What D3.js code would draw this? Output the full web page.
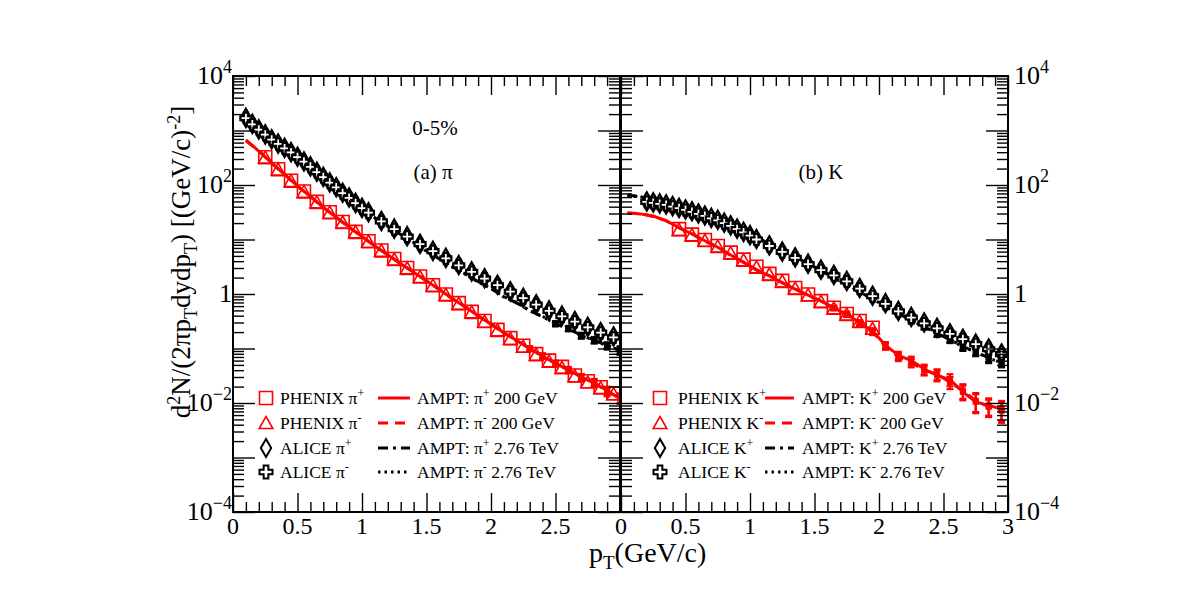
<!DOCTYPE html>
<html><head><meta charset="utf-8">
<script src="https://cdn.jsdelivr.net/npm/d3@7"></script>
<style>body{margin:0;background:#fff} svg{display:block} text{font-family:"Liberation Serif","Times New Roman",serif;fill:#000}</style>
</head><body><svg id="c" width="1182" height="592"></svg>
<script>
// ---------- data: panel (a) pions ----------
const ptAmptPi = [0.1,0.2,0.3,0.4,0.5,0.6,0.7,0.8,0.9,1.0,1.1,1.2,1.3,1.4,1.5,1.6,1.7,1.8,1.9,2.0,2.1,2.2,2.3,2.4,2.5,2.6,2.7,2.8,2.9,3.0];
const ampt200PiPlus  = [670,420,255,155,96,61,39,25.5,17,11.3,7.6,5.2,3.6,2.5,1.75,1.2,0.83,0.58,0.40,0.28,0.195,0.14,0.10,0.072,0.054,0.040,0.030,0.023,0.017,0.012];
const ampt200PiMinus = [650,428,250,158,94,62,38.5,25.8,16.6,11.5,7.5,5.3,3.55,2.55,1.72,1.22,0.82,0.59,0.39,0.285,0.19,0.142,0.098,0.074,0.052,0.041,0.029,0.024,0.016,0.0125];
const ampt200PiErr   = [0.01,0.01,0.01,0.01,0.01,0.01,0.01,0.02,0.02,0.02,0.02,0.03,0.03,0.03,0.04,0.04,0.05,0.05,0.06,0.06,0.07,0.08,0.09,0.1,0.11,0.12,0.13,0.15,0.17,0.2];
const ampt276PiPlus  = [1600,1000,660,455,315,210,134,86,56,36,25,17.5,12.3,8.8,6.2,4.4,3.2,2.3,1.7,1.25,0.9,0.68,0.5,0.38,0.29,0.23,0.175,0.14,0.115,0.09];
const ampt276PiMinus = [1580,1010,650,460,310,212,132,87,55,36.5,24.6,17.8,12.1,8.9,6.1,4.5,3.1,2.35,1.65,1.28,0.88,0.7,0.49,0.39,0.28,0.235,0.17,0.145,0.11,0.095];
const ampt276PiErr   = [0.01,0.01,0.01,0.01,0.01,0.01,0.01,0.01,0.01,0.02,0.02,0.02,0.02,0.03,0.03,0.03,0.04,0.04,0.05,0.05,0.06,0.06,0.07,0.08,0.09,0.1,0.11,0.12,0.13,0.15];
const ptPhenixPi = [0.25,0.35,0.45,0.55,0.65,0.75,0.85,0.95,1.05,1.15,1.25,1.35,1.45,1.55,1.65,1.75,1.85,1.95,2.05,2.15,2.25,2.35,2.45,2.55,2.65,2.75,2.85,2.95];
const phenixPiPlus  = [324,195,120,76,49,31.6,20.9,13.8,9.3,6.3,4.4,3.0,2.1,1.45,0.98,0.68,0.47,0.32,0.22,0.155,0.112,0.079,0.060,0.046,0.032,0.025,0.0195,0.0151];
const phenixPiMinus = [318,192,118,75,48,31,20.5,13.6,9.1,6.2,4.3,2.95,2.05,1.42,0.96,0.66,0.46,0.31,0.215,0.15,0.108,0.077,0.058,0.044,0.031,0.024,0.0188,0.0145];
const ptAlicePi = [0.1,0.15,0.2,0.25,0.3,0.35,0.4,0.45,0.5,0.55,0.6,0.65,0.7,0.75,0.8,0.85,0.9,0.95,1.0,1.05,1.15,1.25,1.35,1.45,1.55,1.65,1.75,1.85,1.95,2.05,2.15,2.25,2.35,2.45,2.55,2.65,2.75,2.85,2.95];
const alicePiPlus  = [1700,1320,1050,850,690,575,480,400,330,270,220,175,141,112,91,72,59,47,38,31.6,21.9,15.8,11.5,8.3,6.2,4.6,3.4,2.6,1.95,1.48,1.12,0.85,0.65,0.50,0.40,0.32,0.25,0.20,0.166];
const alicePiMinus = [1680,1300,1040,840,680,570,470,395,325,268,216,173,139,111,90,71,58,46.5,37.5,31,21.5,15.5,11.3,8.2,6.1,4.5,3.35,2.55,1.92,1.45,1.1,0.84,0.64,0.49,0.39,0.31,0.245,0.195,0.16];

// ---------- data: panel (b) kaons ----------
const ptAmptK = [0.05,0.15,0.25,0.35,0.45,0.55,0.65,0.75,0.85,0.95,1.05,1.15,1.25,1.35,1.45,1.55,1.65,1.75,1.85,1.95,2.05,2.15,2.25,2.35,2.45,2.55,2.65,2.75,2.85,2.95];
const ampt200KPlus  = [30.9,29.5,26.9,21.9,16.6,12.6,9.5,7.2,5.2,3.8,2.8,2.14,1.62,1.23,0.95,0.74,0.56,0.42,0.30,0.21,0.115,0.075,0.060,0.042,0.032,0.027,0.016,0.0105,0.0090,0.0078];
const ampt200KMinus = [30.2,29.8,26.4,22.3,16.3,12.8,9.3,7.3,5.1,3.85,2.75,2.18,1.6,1.25,0.93,0.75,0.55,0.43,0.29,0.20,0.11,0.070,0.055,0.040,0.034,0.024,0.017,0.011,0.0085,0.0072];
const ampt200KErr   = [0.02,0.02,0.02,0.02,0.02,0.03,0.03,0.03,0.04,0.04,0.05,0.05,0.06,0.06,0.07,0.08,0.09,0.1,0.11,0.12,0.14,0.16,0.18,0.2,0.22,0.25,0.3,0.38,0.35,0.4];
const ampt276KPlus  = [66,60,53,46,40,34,28,23,18.5,14.5,11,8.3,6.3,4.8,3.6,2.7,2.0,1.5,1.1,0.8,0.6,0.44,0.33,0.25,0.19,0.145,0.11,0.085,0.068,0.055];
const ampt276KMinus = [64,61,52,46.5,39,34.5,27.5,23.3,18.2,14.7,10.8,8.4,6.2,4.85,3.55,2.75,1.95,1.52,1.08,0.82,0.58,0.45,0.32,0.255,0.185,0.15,0.105,0.088,0.065,0.057];
const ampt276KErr   = [0.01,0.01,0.01,0.01,0.01,0.01,0.02,0.02,0.02,0.02,0.03,0.03,0.03,0.04,0.04,0.05,0.05,0.06,0.06,0.07,0.08,0.09,0.1,0.11,0.12,0.13,0.14,0.15,0.17,0.18];
const ptPhenixK = [0.45,0.55,0.65,0.75,0.85,0.95,1.05,1.15,1.25,1.35,1.45,1.55,1.65,1.75,1.85,1.95];
const phenixKPlus  = [15.5,12.3,9.8,7.6,5.75,4.27,3.16,2.34,1.74,1.29,0.98,0.74,0.56,0.43,0.32,0.24];
const phenixKMinus = [15.0,12.0,9.5,7.4,5.6,4.15,3.08,2.28,1.70,1.26,0.95,0.72,0.545,0.42,0.31,0.23];
const ptAliceK = [0.2,0.25,0.3,0.35,0.4,0.45,0.5,0.55,0.6,0.65,0.7,0.75,0.8,0.85,0.9,0.95,1.0,1.05,1.15,1.25,1.35,1.45,1.55,1.65,1.75,1.85,1.95,2.05,2.15,2.25,2.35,2.45,2.55,2.65,2.75,2.85,2.95];
const aliceKPlus  = [50,48,46,44,41,38,35.5,33,30,27.5,25,23,20.4,18.2,15.8,13.8,12.0,10.2,7.8,6.0,4.7,3.6,2.8,2.24,1.74,1.29,0.93,0.68,0.49,0.38,0.30,0.24,0.19,0.151,0.123,0.100,0.081];
const aliceKMinus = [49,47,45,43,40,37.5,35,32,29.5,27,24.5,22.5,20,17.8,15.5,13.5,11.8,10,7.6,5.9,4.6,3.55,2.75,2.2,1.7,1.26,0.91,0.66,0.48,0.37,0.29,0.235,0.185,0.148,0.12,0.097,0.079];

// ---------- axis tick labels ----------
const xTickLabelsA = [0,0.5,1,1.5,2,2.5];
const xTickLabelsB = [0,0.5,1,1.5,2,2.5,3];
const yTickExpLeft = [4,2,0,-2,-4];
const yTickExpRight = [4,2,0,-2,-4];

// ---------- legends ----------
const legendA = [["PHENIX π","+"],["PHENIX π","-"],["ALICE π","+"],["ALICE π","-"]];
const legendA2 = [["AMPT: π","+"," 200 GeV"],["AMPT: π","-"," 200 GeV"],["AMPT: π","+"," 2.76 TeV"],["AMPT: π","-"," 2.76 TeV"]];
const legendB = [["PHENIX K","+"],["PHENIX K","-"],["ALICE K","+"],["ALICE K","-"]];
const legendB2 = [["AMPT: K","+"," 200 GeV"],["AMPT: K","-"," 200 GeV"],["AMPT: K","+"," 2.76 TeV"],["AMPT: K","-"," 2.76 TeV"]];

// ---------- drawing ----------
const svg = d3.select("#c");
svg.append("rect").attr("width",1182).attr("height",592).attr("fill","#fff");
const y = d3.scaleLog().domain([1e-4,1e4]).range([512,76]);
const xA = d3.scaleLinear().domain([0,3]).range([233,620]);
const xB = d3.scaleLinear().domain([0,3]).range([621,1008]);
const RED = "#ff0000";

const yMajor = d3.range(-4,5).map(k=>Math.pow(10,k));
const yMinor = [];
for (let k=-4;k<4;k++) for (let m=2;m<=9;m++) yMinor.push(m*Math.pow(10,k));
const xMajor = d3.range(0,7).map(i=>i*0.5);
const xMinor = d3.range(0,31).map(i=>i/10).filter(v=>Math.abs(v*2-Math.round(v*2))>1e-6);

function axes(xs) {
  const [x0,x1] = xs.range();
  const g = svg.append("g");
  const mk = (gen, tr) => {
    const a = g.append("g").attr("transform",tr).call(gen);
    a.select(".domain").remove();
    a.selectAll("line").attr("stroke","#000").attr("stroke-width",1.4);
  };
  mk(d3.axisTop(xs).tickValues(xMajor).tickSize(19).tickFormat(""), "translate(0,512)");
  mk(d3.axisTop(xs).tickValues(xMinor).tickSize(10).tickFormat(""), "translate(0,512)");
  mk(d3.axisBottom(xs).tickValues(xMajor).tickSize(19).tickFormat(""), "translate(0,76)");
  mk(d3.axisBottom(xs).tickValues(xMinor).tickSize(10).tickFormat(""), "translate(0,76)");
  mk(d3.axisRight(y).tickValues(yMajor).tickSize(22).tickFormat(""), `translate(${x0},0)`);
  mk(d3.axisRight(y).tickValues(yMinor).tickSize(11).tickFormat(""), `translate(${x0},0)`);
  mk(d3.axisLeft(y).tickValues(yMajor).tickSize(22).tickFormat(""), `translate(${x1},0)`);
  mk(d3.axisLeft(y).tickValues(yMinor).tickSize(11).tickFormat(""), `translate(${x1},0)`);
  g.append("rect").attr("x",x0).attr("y",76).attr("width",x1-x0).attr("height",436)
    .attr("fill","none").attr("stroke","#000").attr("stroke-width",2);
}

function clip(id, xs) {
  const [x0,x1] = xs.range();
  svg.append("clipPath").attr("id",id).append("rect").attr("x",x0).attr("y",76).attr("width",x1-x0).attr("height",436);
}
clip("ca",xA); clip("cb",xB);

function markerPath(type, s) {
  const h = s/2;
  if (type==="square") return `M${-h},${-h}H${h}V${h}H${-h}Z`;
  if (type==="triangle") return `M0,${-h*1.0}L${h*1.05},${h*0.85}L${-h*1.05},${h*0.85}Z`;
  if (type==="diamond") return `M0,${-h*1.4}L${h*0.8},0L0,${h*1.4}L${-h*0.8},0Z`;
  if (type==="cross") { const a=h*0.36; return `M${-a},${-h}H${a}V${-a}H${h}V${a}H${a}V${h}H${-a}V${a}H${-h}V${-a}H${-a}Z`; }
}

function markers(g, xs, pts, vals, type, color, fill, size) {
  g.append("g").selectAll("path").data(vals).join("path")
    .attr("d", markerPath(type, size))
    .attr("transform",(d,i)=>`translate(${xs(pts[i])},${y(d)})`)
    .attr("fill",fill).attr("stroke",color).attr("stroke-width",type==="cross"||type==="diamond"?2.2:1.6);
}

function curve(g, xs, pts, vals, errs, color, dash) {
  const line = d3.line().x((d,i)=>xs(pts[i])).y(d=>y(d));
  g.append("path").datum(vals).attr("d",line).attr("fill","none").attr("stroke",color)
    .attr("stroke-width",3).attr("stroke-dasharray",dash);
  const eb = g.append("g").attr("stroke",color).attr("stroke-width",2.2);
  vals.forEach((v,i)=>{
    const X = xs(pts[i]), y1 = y(v*(1+errs[i])), y2 = y(v*(1-errs[i]));
    if (y2-y1 < 4) return;
    eb.append("line").attr("x1",X).attr("x2",X).attr("y1",y1).attr("y2",y2);
    eb.append("line").attr("x1",X-3.5).attr("x2",X+3.5).attr("y1",y1).attr("y2",y1);
    eb.append("line").attr("x1",X-3.5).attr("x2",X+3.5).attr("y1",y2).attr("y2",y2);
    eb.append("rect").attr("x",X-3).attr("y",y(v)-3).attr("width",6).attr("height",6).attr("fill",color).attr("stroke","none");
  });
}

const DASH = "10,7", DASHDOT = "10,5,3,5", DOT = "2.5,4";

// panel a
const ga = svg.append("g").attr("clip-path","url(#ca)");
curve(ga, xA, ptAmptPi, ampt200PiPlus, ampt200PiErr, RED, null);
curve(ga, xA, ptAmptPi, ampt200PiMinus, ampt200PiErr, RED, DASH);
markers(ga, xA, ptPhenixPi, phenixPiPlus, "square", RED, "none", 13);
markers(ga, xA, ptPhenixPi, phenixPiMinus, "triangle", RED, "none", 13);
curve(ga, xA, ptAmptPi, ampt276PiPlus, ampt276PiErr, "#000", DASHDOT);
curve(ga, xA, ptAmptPi, ampt276PiMinus, ampt276PiErr, "#000", DOT);
markers(ga, xA, ptAlicePi, alicePiPlus, "diamond", "#000", "none", 13);
markers(ga, xA, ptAlicePi, alicePiMinus, "cross", "#000", "#fff", 11);

// panel b
const gb = svg.append("g").attr("clip-path","url(#cb)");
curve(gb, xB, ptAmptK, ampt200KPlus, ampt200KErr, RED, null);
curve(gb, xB, ptAmptK, ampt200KMinus, ampt200KErr, RED, DASH);
markers(gb, xB, ptPhenixK, phenixKPlus, "square", RED, "none", 13);
markers(gb, xB, ptPhenixK, phenixKMinus, "triangle", RED, "none", 13);
curve(gb, xB, ptAmptK, ampt276KPlus, ampt276KErr, "#000", DASHDOT);
curve(gb, xB, ptAmptK, ampt276KMinus, ampt276KErr, "#000", DOT);
markers(gb, xB, ptAliceK, aliceKPlus, "diamond", "#000", "none", 13);
markers(gb, xB, ptAliceK, aliceKMinus, "cross", "#000", "#fff", 11);

axes(xA); axes(xB);

// x tick labels
function xLabels(xs, labels) {
  svg.append("g").selectAll("text").data(labels).join("text")
    .attr("x",d=>xs(d)).attr("y",534).attr("text-anchor","middle").attr("font-size",24).text(d=>String(d));
}
xLabels(xA, xTickLabelsA); xLabels(xB, xTickLabelsB);

// y tick labels
function yLabels(exps, xpos, anchor) {
  exps.forEach(e=>{
    const t = svg.append("text").attr("x",xpos).attr("y",y(Math.pow(10,e))+8)
      .attr("text-anchor",anchor).attr("font-size",26);
    if (e===0) { t.text("1"); return; }
    t.append("tspan").text("10");
    t.append("tspan").attr("font-size",18).attr("dy",-11).text(e<0?"−"+(-e):String(e));
  });
}
yLabels(yTickExpLeft, 232, "end");
yLabels(yTickExpRight, 1014, "start");

// axis titles
const xt = svg.append("text").attr("x",589).attr("y",562).attr("font-size",28);
xt.append("tspan").text("p");
xt.append("tspan").attr("font-size",19).attr("dy",7).text("T");
xt.append("tspan").attr("dy",-7).text("(GeV/c)");

const yt = svg.append("text").attr("transform","translate(190,262) rotate(-90)").attr("text-anchor","middle").attr("font-size",27);
yt.append("tspan").text("d");
yt.append("tspan").attr("font-size",18).attr("dy",-10).text("2");
yt.append("tspan").attr("dy",10).text("N/(2πp");
yt.append("tspan").attr("font-size",18).attr("dy",7).text("T");
yt.append("tspan").attr("dy",-7).text("dydp");
yt.append("tspan").attr("font-size",18).attr("dy",7).text("T");
yt.append("tspan").attr("dy",-7).text(") [(GeV/c)");
yt.append("tspan").attr("font-size",18).attr("dy",-10).text("-2");
yt.append("tspan").attr("dy",10).text("]");

// panel labels
svg.append("text").attr("x",435).attr("y",135).attr("text-anchor","middle").attr("font-size",21).text("0-5%");
svg.append("text").attr("x",433).attr("y",179).attr("text-anchor","middle").attr("font-size",21).text("(a) π");
svg.append("text").attr("x",821).attr("y",179).attr("text-anchor","middle").attr("font-size",21).text("(b) K");

// legends
function legend(mx, tx, lx1, lx2, ltx, rows1, rows2) {
  const types = ["square","triangle","diamond","cross"];
  const cols = [RED,RED,"#000","#000"];
  const dashes = [null, DASH, DASHDOT, DOT];
  const rowY = [398,423,448,472];
  const g = svg.append("g");
  rows1.forEach((r,i)=>{
    const Y = rowY[i];
    g.append("path").attr("d",markerPath(types[i], 13)).attr("transform",`translate(${mx},${Y})`)
      .attr("fill","none").attr("stroke",cols[i]).attr("stroke-width",i>1?2:1.6);
    const t = g.append("text").attr("x",tx).attr("y",Y+6).attr("font-size",17.5);
    t.append("tspan").text(r[0]);
    t.append("tspan").attr("font-size",12).attr("dy",-7).text(r[1]);
    g.append("line").attr("x1",lx1).attr("x2",lx2).attr("y1",Y).attr("y2",Y)
      .attr("stroke",cols[i]).attr("stroke-width",3).attr("stroke-dasharray",dashes[i]);
    const r2 = rows2[i];
    const t2 = g.append("text").attr("x",ltx).attr("y",Y+6).attr("font-size",17.5);
    t2.append("tspan").text(r2[0]);
    t2.append("tspan").attr("font-size",12).attr("dy",-7).text(r2[1]);
    t2.append("tspan").attr("dy",7).text(r2[2]);
  });
}
legend(266, 280, 378, 410, 417, legendA, legendA2);
legend(660, 678, 765, 794, 802, legendB, legendB2);
</script></body></html>
